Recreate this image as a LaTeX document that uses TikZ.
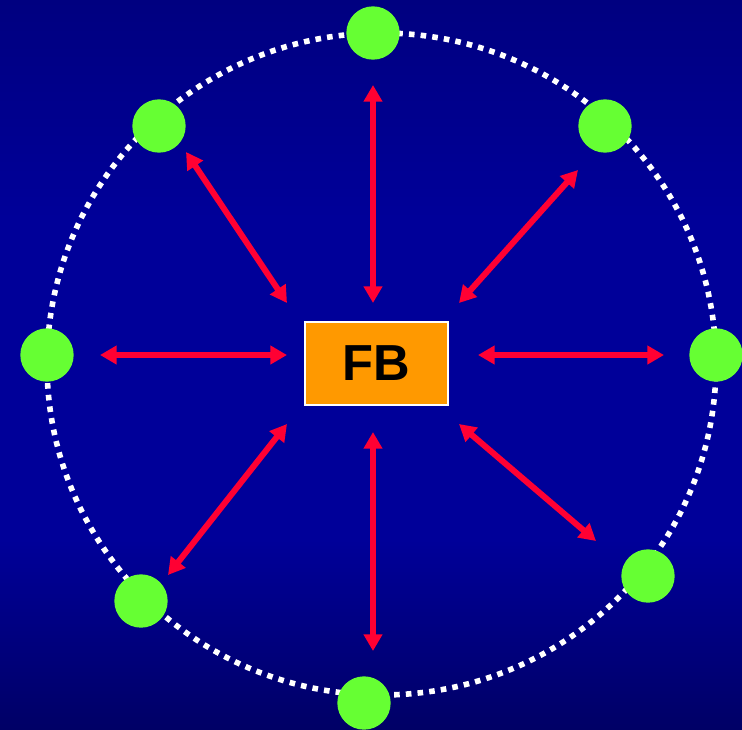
\documentclass[tikz,border=0pt]{standalone}
\usepackage{fontspec}
\setmainfont{Liberation Sans}
\usepackage{tikz}
\usetikzlibrary{arrows.meta}
\definecolor{bgdark}{RGB}{0,0,128}
\definecolor{bgmid}{RGB}{0,0,153}
\definecolor{bglow}{RGB}{0,0,102}
\definecolor{leafgreen}{RGB}{102,255,51}
\definecolor{boxorange}{RGB}{255,153,0}
\definecolor{linkred}{RGB}{255,0,51}
\pgfdeclareverticalshading{bgshade}{100bp}{color(0bp)=(bglow); color(25bp)=(bglow); color(38bp)=(bgmid);
  color(60bp)=(bgmid); color(75bp)=(bgdark); color(100bp)=(bgdark)}
\tikzset{
  leaf/.style={circle, fill=leafgreen, minimum size=40pt, inner sep=0pt},
  hub/.style={draw=white, line width=1.5pt, fill=boxorange, minimum width=107pt, minimum height=62pt},
  biarrow/.style={linkred, line width=4.5pt, {Triangle[length=12.5pt,width=13.5pt]}-{Triangle[length=12.5pt,width=13.5pt]}}
}

\begin{document}
\begin{tikzpicture}[x=0.75pt,y=-0.75pt]
  \useasboundingbox (0,0) rectangle (742,729);
  \shade[shading=bgshade] (0,0) rectangle (742,729);
  \draw[white, line width=4.2pt, dash pattern=on 4.2pt off 4.6pt] (381.5,364) ellipse [x radius=334.5, y radius=331];
  \foreach \x/\y [count=\c] in {373/33, 159/126, 605/126, 47/355, 716/355, 141/601, 648/576, 364/703}{
    \node[leaf] (g\c) at (\x,\y) {};
  }
  \node[hub] (fb) at (376.5,363.5) {\fontsize{38}{44}\selectfont\bfseries FB};
  \foreach \ax/\ay/\bx/\by [count=\c] in {373/303/373/85, 287/303/186/152, 459/303/578/170, 287/355/100/355,
                                        478/355/664/355, 287/424/168/575, 373/432/373/651, 459/424/596/541}{
    \coordinate (a\c) at (\ax,\ay);
    \coordinate (b\c) at (\bx,\by);
    \draw[biarrow] (a\c) -- (b\c);
  }
\end{tikzpicture}
\end{document}
